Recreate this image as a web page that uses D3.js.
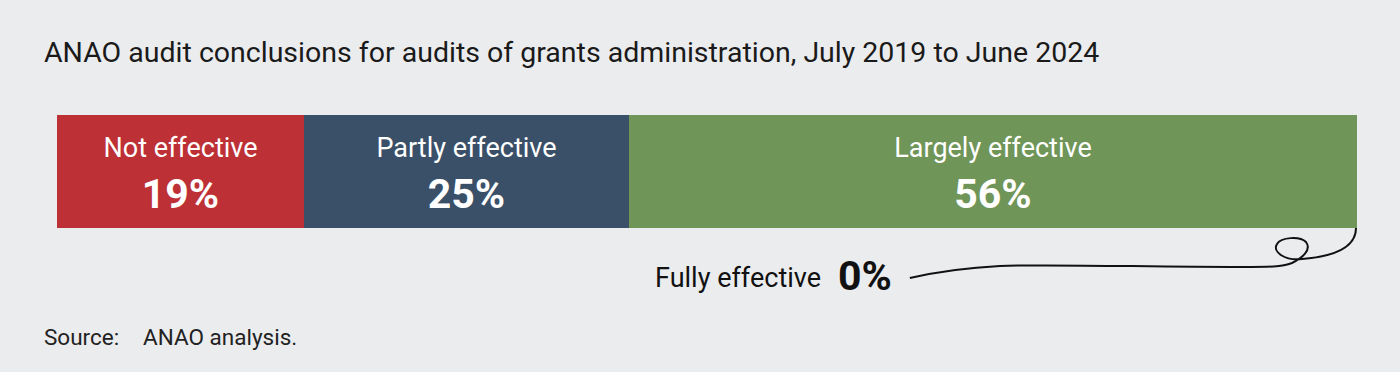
<!DOCTYPE html>
<html>
<head>
<meta charset="utf-8">
<script src="https://cdn.jsdelivr.net/npm/d3@7"></script>
<style>
  html, body { margin: 0; padding: 0; background: #ebecee; }
  svg { display: block; font-family: Roboto, "Noto Sans", sans-serif; }
</style>
</head>
<body>
<div id="chart"></div>
<script>
(function () {
  'use strict';

  // data
  var categories = ['Not effective', 'Partly effective', 'Largely effective'];
  var shares = [19, 25, 56];
  var colours = ['#bd3035', '#3a5068', '#6f9558'];
  var zeroCategory = 'Fully effective';
  var zeroShare = 0;
  var title = 'ANAO audit conclusions for audits of grants administration, July 2019 to June 2024';
  var sourceLabel = 'Source:';
  var sourceText = 'ANAO analysis.';

  var width = 1400, height = 372;

  var svg = d3.select('#chart')
    .append('svg')
    .attr('width', width)
    .attr('height', height);

  svg.append('rect')
    .attr('width', width)
    .attr('height', height)
    .attr('fill', '#ebecee');

  svg.append('text')
    .attr('x', 44)
    .attr('y', 62)
    .attr('font-size', 28.5)
    .attr('fill', '#1a1a1a')
    .text(title);

  var x = d3.scaleLinear().domain([0, 100]).range([57, 1357]);
  var y = d3.scaleBand().domain(['bar']).range([115, 228]);

  var stack = [];
  var acc = 0;
  shares.forEach(function (d, i) {
    stack.push({ name: categories[i], value: d, x0: acc, x1: acc + d, colour: colours[i] });
    acc += d;
  });

  var seg = svg.append('g').selectAll('g')
    .data(stack)
    .enter().append('g');

  seg.append('rect')
    .attr('x', function (d) { return x(d.x0); })
    .attr('y', y('bar'))
    .attr('width', function (d) { return x(d.x1) - x(d.x0); })
    .attr('height', y.bandwidth())
    .attr('fill', function (d) { return d.colour; });

  seg.append('text')
    .attr('x', function (d) { return (x(d.x0) + x(d.x1)) / 2; })
    .attr('y', y('bar') + 42)
    .attr('text-anchor', 'middle')
    .attr('font-size', 27)
    .attr('fill', '#fff')
    .text(function (d) { return d.name; });

  seg.append('text')
    .attr('x', function (d) { return (x(d.x0) + x(d.x1)) / 2; })
    .attr('y', y('bar') + 93)
    .attr('text-anchor', 'middle')
    .attr('font-size', 41)
    .attr('font-weight', 700)
    .attr('fill', '#fff')
    .text(function (d) { return d.value + '%'; });

  // fully effective (0%) note, linked to the end of the bar by a looped line
  svg.append('text')
    .attr('x', 821)
    .attr('y', 287)
    .attr('text-anchor', 'end')
    .attr('font-size', 27)
    .attr('fill', '#111')
    .text(zeroCategory);

  var zeroText = svg.append('text')
    .attr('x', 838)
    .attr('y', 290)
    .attr('font-size', 41)
    .attr('font-weight', 700)
    .attr('fill', '#111')
    .text(zeroShare + '%');

  var ax = x(100) - 1, ay = y('bar') + y.bandwidth();
  var bb = zeroText.node().getBBox();
  var ex = bb.x + bb.width + 18, ey = ay + 50;

  var p = d3.path();
  p.moveTo(ax, ay);
  p.bezierCurveTo(ax, ay + 17, ax - 16, ay + 28, ax - 54, ay + 31);
  p.bezierCurveTo(ax - 71, ay + 33, ax - 84, ay + 24, ax - 79, ay + 16);
  p.bezierCurveTo(ax - 75, ay + 9, ax - 56, ay + 8, ax - 50, ay + 14);
  p.bezierCurveTo(ax - 44, ay + 22, ax - 54, ay + 30, ax - 64, ay + 35);
  p.bezierCurveTo(ax - 74, ay + 39, ax - 86, ay + 39, ax - 116, ay + 39);
  p.bezierCurveTo(ax - 206, ay + 39, ax - 306, ay + 36, ax - 356, ay + 38);
  p.bezierCurveTo(ax - 396, ay + 40, ex + 22, ey - 5, ex, ey);

  svg.append('path')
    .attr('d', p.toString())
    .attr('fill', 'none')
    .attr('stroke', '#111')
    .attr('stroke-width', 2);

  svg.append('text')
    .attr('x', 44)
    .attr('y', 345)
    .attr('font-size', 22.5)
    .attr('fill', '#222')
    .text(sourceLabel);

  svg.append('text')
    .attr('x', 143)
    .attr('y', 345)
    .attr('font-size', 22.5)
    .attr('fill', '#222')
    .text(sourceText);
}());
</script>
</body>
</html>
